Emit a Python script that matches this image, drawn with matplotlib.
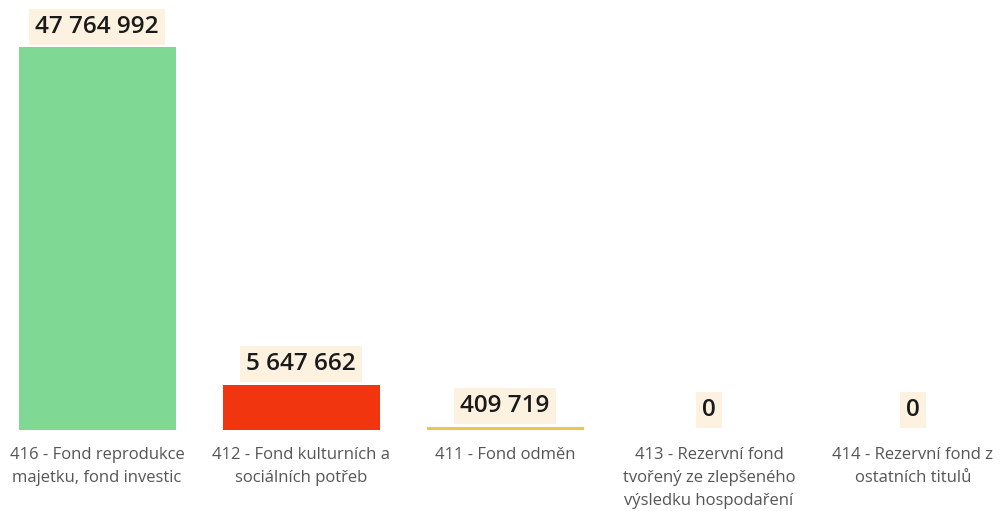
import matplotlib
matplotlib.use("Agg")
import matplotlib.pyplot as plt

categories = [
    "416 - Fond reprodukce\nmajetku, fond investic",
    "412 - Fond kulturních a\nsociálních potřeb",
    "411 - Fond odměn",
    "413 - Rezervní fond\ntvořený ze zlepšeného\nvýsledku hospodaření",
    "414 - Rezervní fond z\nostatních titulů",
]
values = [47764992, 5647662, 409719, 0, 0]
colors = ["#7fd894", "#f0350f", "#f2c14e", "#cccccc", "#cccccc"]

W, H = 1005, 511
fig = plt.figure(figsize=(W / 100, H / 100), dpi=100, facecolor="white")
# axes: baseline at y=430px, bar centers at 97 + 204*i px
ax = fig.add_axes([0, (H - 430) / H, 1, 430 / H])
ax.set_xlim(-97 / 204, (W - 97) / 204)
ax.set_ylim(0, values[0] * 430 / 383)
ax.axis("off")

x = list(range(len(values)))
ax.bar(x, values, width=157 / 204, color=colors)

fam = ["Open Sans", "DejaVu Sans"]
for xi, v, cat in zip(x, values, categories):
    lab = f"{v:,}".replace(",", " ")
    ax.annotate(lab, (xi, v), xytext=(0, 6), textcoords="offset points",
                ha="center", va="bottom", fontsize=17.5, fontweight="semibold",
                family=fam, color="#1a1a1a",
                bbox=dict(boxstyle="square,pad=0.25", fc="#fdf1e0", ec="none"))
    ax.annotate(cat, (xi, 0), xytext=(0, -12.5), textcoords="offset points",
                ha="center", va="top", fontsize=12, color="#555555",
                family=fam, linespacing=1.55)

fig.savefig("out.png", dpi=100, facecolor="white")
